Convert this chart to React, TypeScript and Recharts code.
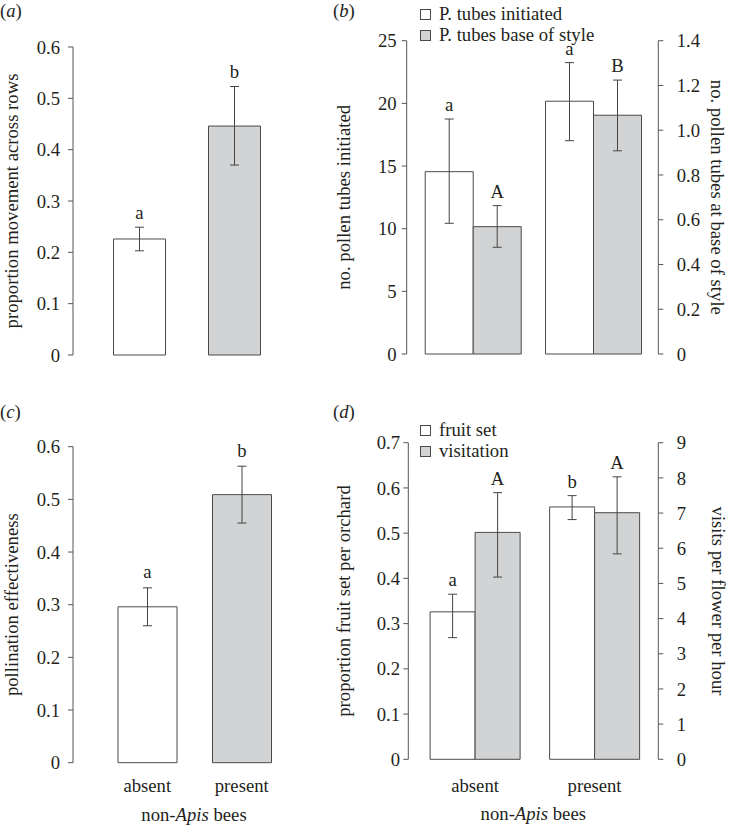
import React from 'react';
import { ComposedChart, Bar, XAxis, YAxis, ErrorBar, Cell, LabelList, Legend } from 'recharts';

// ---------- data ----------
const categories = ['absent', 'present'];

// (a) proportion movement across rows
const movementMean = [0.226, 0.446];
const movementErrLow = [0.023, 0.076];
const movementErrHigh = [0.023, 0.077];
const movementSig = ['a', 'b'];

// (b) pollen tubes
const tubesInitiatedMean = [14.55, 20.17];
const tubesInitiatedErrLow = [4.12, 3.15];
const tubesInitiatedErrHigh = [4.2, 3.08];
const tubesInitiatedSig = ['a', 'a'];
const tubesBaseMean = [0.569, 1.067];
const tubesBaseErrLow = [0.092, 0.159];
const tubesBaseErrHigh = [0.094, 0.157];
const tubesBaseSig = ['A', 'B'];

// (c) pollination effectiveness
const effectivenessMean = [0.296, 0.509];
const effectivenessErrLow = [0.036, 0.054];
const effectivenessErrHigh = [0.036, 0.054];
const effectivenessSig = ['a', 'b'];

// (d) fruit set and visitation
const fruitSetMean = [0.326, 0.558];
const fruitSetErrLow = [0.057, 0.028];
const fruitSetErrHigh = [0.039, 0.025];
const fruitSetSig = ['a', 'b'];
const visitationMean = [6.45, 7.01];
const visitationErrLow = [1.27, 1.17];
const visitationErrHigh = [1.13, 1.02];
const visitationSig = ['A', 'A'];

// tick labels
const ticksMovement = [0, 0.1, 0.2, 0.3, 0.4, 0.5, 0.6];
const ticksTubes = [0, 5, 10, 15, 20, 25];
const ticksBase = [0, 0.2, 0.4, 0.6, 0.8, 1.0, 1.2, 1.4];
const ticksEffectiveness = [0, 0.1, 0.2, 0.3, 0.4, 0.5, 0.6];
const ticksFruit = [0, 0.1, 0.2, 0.3, 0.4, 0.5, 0.6, 0.7];
const ticksVisits = [0, 1, 2, 3, 4, 5, 6, 7, 8, 9];
const boundaryTicks = [0, 1, 2];

const legendB = ['P. tubes initiated', 'P. tubes base of style'];
const legendD = ['fruit set', 'visitation'];

// ---------- style ----------
const FONT = "'Liberation Serif', 'DejaVu Serif', serif";
const TEXT = '#231f20';
const AXIS = '#555555';
const BAR_STROKE = '#4a4a4a';
const WHITE = '#ffffff';
const GRAY = '#d1d3d4';
const FS = 18.7;

const dataA = categories.map((c, i) => ({ cat: c, mean: movementMean[i], err: [movementErrLow[i], movementErrHigh[i]] }));
const dataB = categories.map((c, i) => ({
  cat: c,
  init: tubesInitiatedMean[i], initErr: [tubesInitiatedErrLow[i], tubesInitiatedErrHigh[i]],
  base: tubesBaseMean[i], baseErr: [tubesBaseErrLow[i], tubesBaseErrHigh[i]],
}));
const dataC = categories.map((c, i) => ({ cat: c, mean: effectivenessMean[i], err: [effectivenessErrLow[i], effectivenessErrHigh[i]] }));
const dataD = categories.map((c, i) => ({
  cat: c,
  fruit: fruitSetMean[i], fruitErr: [fruitSetErrLow[i], fruitSetErrHigh[i]],
  visits: visitationMean[i], visitsErr: [visitationErrLow[i], visitationErrHigh[i]],
}));

const tickText = { fontSize: FS, fill: TEXT, fontFamily: FONT };
const axisLineStyle = { stroke: AXIS, strokeWidth: 1 };
const noTick = () => <g />;
const fmt1 = (v: number) => (v === 0 ? '0' : v.toFixed(1));

const sigLabel = (means: number[], errHigh: number[], sig: string[], gap: number) => (props: any) => {
  const x = Number(props.x), y = Number(props.y), w = Number(props.width), h = Number(props.height);
  const i = props.index;
  if (i == null || !means[i]) return null;
  const pxPerUnit = h / means[i];
  const top = y - errHigh[i] * pxPerUnit;
  return (
    <text x={x + w / 2} y={top - gap} textAnchor="middle" fontSize={FS} fill={TEXT} fontFamily={FONT}>
      {sig[i]}
    </text>
  );
};

const xTitle = (dy: number) => (props: any) => {
  const vb = props.viewBox || {};
  return (
    <text x={vb.x + vb.width / 2} y={vb.y + dy} textAnchor="middle" fontSize={FS} fill={TEXT} fontFamily={FONT}>
      non-<tspan fontStyle="italic">Apis</tspan> bees
    </text>
  );
};

const yLabel = (value: string, side: 'left' | 'right', offset: number) => ({
  value,
  angle: side === 'left' ? -90 : 90,
  position: side === 'left' ? 'insideLeft' : 'insideRight',
  offset,
  fontSize: FS,
  fill: TEXT,
  fontFamily: FONT,
  style: { textAnchor: 'middle' },
});

const legendContent = (labels: string[]) => () => (
  <div style={{ fontFamily: FONT, fontSize: FS, lineHeight: '21px', color: TEXT }}>
    {labels.map((l, i) => (
      <div key={l} style={{ display: 'flex', alignItems: 'center', whiteSpace: 'nowrap' }}>
        <span
          style={{
            display: 'inline-block', width: 9, height: 9, border: `1px solid ${BAR_STROKE}`,
            background: i === 0 ? WHITE : GRAY, marginRight: 8, position: 'relative', top: 1,
          }}
        />
        {l}
      </div>
    ))}
  </div>
);

const PanelTag = ({ letter, left, top }: { letter: string; left: number; top: number }) => (
  <div style={{ position: 'absolute', left, top, fontFamily: FONT, fontSize: FS, lineHeight: '21px', color: TEXT }}>
    (<span style={{ fontStyle: 'italic' }}>{letter}</span>)
  </div>
);

export default function App() {
  return (
    <div style={{ position: 'absolute', left: 0, top: 0, width: 730, height: 825, background: '#fff', overflow: 'hidden' }}>
      {/* (a) */}
      <div style={{ position: 'absolute', left: 0, top: 0 }}>
        <ComposedChart width={365} height={400} data={dataA} margin={{ top: 47, right: 65, bottom: 45, left: 0 }}>
          <XAxis xAxisId="t" type="number" domain={[0, 2]} allowDataOverflow ticks={boundaryTicks} height={0} mirror
            tickSize={5} tick={noTick} axisLine={axisLineStyle} tickLine={axisLineStyle} />
          <XAxis xAxisId="cat" dataKey="cat" type="category" hide padding={{ left: 18.5, right: 18.5 }} />
          <YAxis yAxisId="l" width={73} domain={[0, 0.6]} ticks={ticksMovement} tickSize={5} tickMargin={8}
            tick={tickText} axisLine={axisLineStyle} tickLine={axisLineStyle}
            label={yLabel('proportion movement across rows', 'left', 11) as any} />
          <Bar xAxisId="cat" yAxisId="l" dataKey="mean" barSize={52} stroke={BAR_STROKE} strokeWidth={1} isAnimationActive={false}>
            {dataA.map((d, i) => <Cell key={d.cat} fill={i === 0 ? WHITE : GRAY} />)}
            <ErrorBar dataKey="err" width={4.5} stroke="#444" strokeWidth={1} />
            <LabelList dataKey="mean" content={sigLabel(movementMean, movementErrHigh, movementSig, 8.5)} />
          </Bar>
        </ComposedChart>
      </div>

      {/* (b) */}
      <div style={{ position: 'absolute', left: 320, top: 0 }}>
        <ComposedChart width={410} height={400} data={dataB} margin={{ top: 40.7, right: 0, bottom: 46, left: 0 }}
          barCategoryGap="10.4%" barGap={0}>
          <XAxis xAxisId="t" type="number" domain={[0, 2]} allowDataOverflow ticks={boundaryTicks} height={0} mirror
            padding={{ left: 3, right: 1 }} tickSize={5} tick={noTick} axisLine={axisLineStyle} tickLine={axisLineStyle} />
          <XAxis xAxisId="cat" dataKey="cat" type="category" hide padding={{ left: 6, right: 5 }} />
          <YAxis yAxisId="l" width={86.7} domain={[0, 25]} ticks={ticksTubes} tickSize={5} tickMargin={5}
            tick={tickText} axisLine={axisLineStyle} tickLine={axisLineStyle}
            label={yLabel('no. pollen tubes initiated', 'left', 23) as any} />
          <YAxis yAxisId="r" orientation="right" width={71.7} domain={[0, 1.4]} ticks={ticksBase} tickFormatter={fmt1}
            tickSize={5} tickMargin={13.4} tick={tickText} axisLine={axisLineStyle} tickLine={axisLineStyle}
            label={yLabel('no. pollen tubes at base of style', 'right', 12.6) as any} />
          <Legend layout="vertical" align="center" verticalAlign="middle" content={legendContent(legendB)}
            wrapperStyle={{ position: 'absolute', left: 100, top: 2.5, width: 'auto' }} />
          <Bar xAxisId="cat" yAxisId="l" dataKey="init" fill={WHITE} stroke={BAR_STROKE} strokeWidth={1} isAnimationActive={false}>
            <ErrorBar dataKey="initErr" width={4.5} stroke="#444" strokeWidth={1} />
            <LabelList dataKey="init" content={sigLabel(tubesInitiatedMean, tubesInitiatedErrHigh, tubesInitiatedSig, 8)} />
          </Bar>
          <Bar xAxisId="cat" yAxisId="r" dataKey="base" fill={GRAY} stroke={BAR_STROKE} strokeWidth={1} isAnimationActive={false}>
            <ErrorBar dataKey="baseErr" width={4.5} stroke="#444" strokeWidth={1} />
            <LabelList dataKey="base" content={sigLabel(tubesBaseMean, tubesBaseErrHigh, tubesBaseSig, 8)} />
          </Bar>
        </ComposedChart>
      </div>

      {/* (c) */}
      <div style={{ position: 'absolute', left: 0, top: 400 }}>
        <ComposedChart width={365} height={425} data={dataC} margin={{ top: 46.7, right: 50, bottom: 0, left: 0 }}>
          <XAxis xAxisId="t" type="number" domain={[0, 2]} allowDataOverflow ticks={boundaryTicks} height={0} mirror
            tickSize={5} tick={noTick} axisLine={axisLineStyle} tickLine={axisLineStyle} />
          <XAxis xAxisId="cat" dataKey="cat" type="category" height={62.3} padding={{ left: 27, right: 26 }}
            axisLine={false} tickLine={false} tickSize={0} tickMargin={16.3} tick={tickText}
            label={{ content: xTitle(58) } as any} />
          <YAxis yAxisId="l" width={73} domain={[0, 0.6]} ticks={ticksEffectiveness} tickSize={5} tickMargin={8}
            tick={tickText} axisLine={axisLineStyle} tickLine={axisLineStyle}
            label={yLabel('pollination effectiveness', 'left', 11) as any} />
          <Bar xAxisId="cat" yAxisId="l" dataKey="mean" barSize={59} stroke={BAR_STROKE} strokeWidth={1} isAnimationActive={false}>
            {dataC.map((d, i) => <Cell key={d.cat} fill={i === 0 ? WHITE : GRAY} />)}
            <ErrorBar dataKey="err" width={4.5} stroke="#444" strokeWidth={1} />
            <LabelList dataKey="mean" content={sigLabel(effectivenessMean, effectivenessErrHigh, effectivenessSig, 9.5)} />
          </Bar>
        </ComposedChart>
      </div>

      {/* (d) */}
      <div style={{ position: 'absolute', left: 320, top: 400 }}>
        <ComposedChart width={410} height={425} data={dataD} margin={{ top: 42.7, right: 0, bottom: 0, left: 0 }}
          barCategoryGap="12.4%" barGap={0}>
          <XAxis xAxisId="t" type="number" domain={[0, 2]} allowDataOverflow ticks={boundaryTicks} height={0} mirror
            padding={{ left: 3, right: 2 }} tickSize={5} tick={noTick} axisLine={axisLineStyle} tickLine={axisLineStyle} />
          <XAxis xAxisId="cat" dataKey="cat" type="category" height={65.7} padding={{ left: 7, right: 4 }}
            axisLine={false} tickLine={false} tickSize={0} tickMargin={19.4} tick={tickText}
            label={{ content: xTitle(60.7) } as any} />
          <YAxis yAxisId="l" width={88.3} domain={[0, 0.7]} ticks={ticksFruit} tickSize={5} tickMargin={3.3}
            tick={tickText} axisLine={axisLineStyle} tickLine={axisLineStyle}
            label={yLabel('proportion fruit set per orchard', 'left', 23) as any} />
          <YAxis yAxisId="r" orientation="right" width={71.7} domain={[0, 9]} ticks={ticksVisits}
            tickSize={5} tickMargin={13.4} tick={tickText} axisLine={axisLineStyle} tickLine={axisLineStyle}
            label={yLabel('visits per flower per hour', 'right', 11) as any} />
          <Legend layout="vertical" align="center" verticalAlign="middle" content={legendContent(legendD)}
            wrapperStyle={{ position: 'absolute', left: 100, top: 19.2, width: 'auto' }} />
          <Bar xAxisId="cat" yAxisId="l" dataKey="fruit" fill={WHITE} stroke={BAR_STROKE} strokeWidth={1} isAnimationActive={false}>
            <ErrorBar dataKey="fruitErr" width={4.5} stroke="#444" strokeWidth={1} />
            <LabelList dataKey="fruit" content={sigLabel(fruitSetMean, fruitSetErrHigh, fruitSetSig, 8)} />
          </Bar>
          <Bar xAxisId="cat" yAxisId="r" dataKey="visits" fill={GRAY} stroke={BAR_STROKE} strokeWidth={1} isAnimationActive={false}>
            <ErrorBar dataKey="visitsErr" width={4.5} stroke="#444" strokeWidth={1} />
            <LabelList dataKey="visits" content={sigLabel(visitationMean, visitationErrHigh, visitationSig, 8)} />
          </Bar>
        </ComposedChart>
      </div>

      <PanelTag letter="a" left={0} top={0} />
      <PanelTag letter="b" left={333} top={0} />
      <PanelTag letter="c" left={0} top={401} />
      <PanelTag letter="d" left={333} top={401} />
    </div>
  );
}
